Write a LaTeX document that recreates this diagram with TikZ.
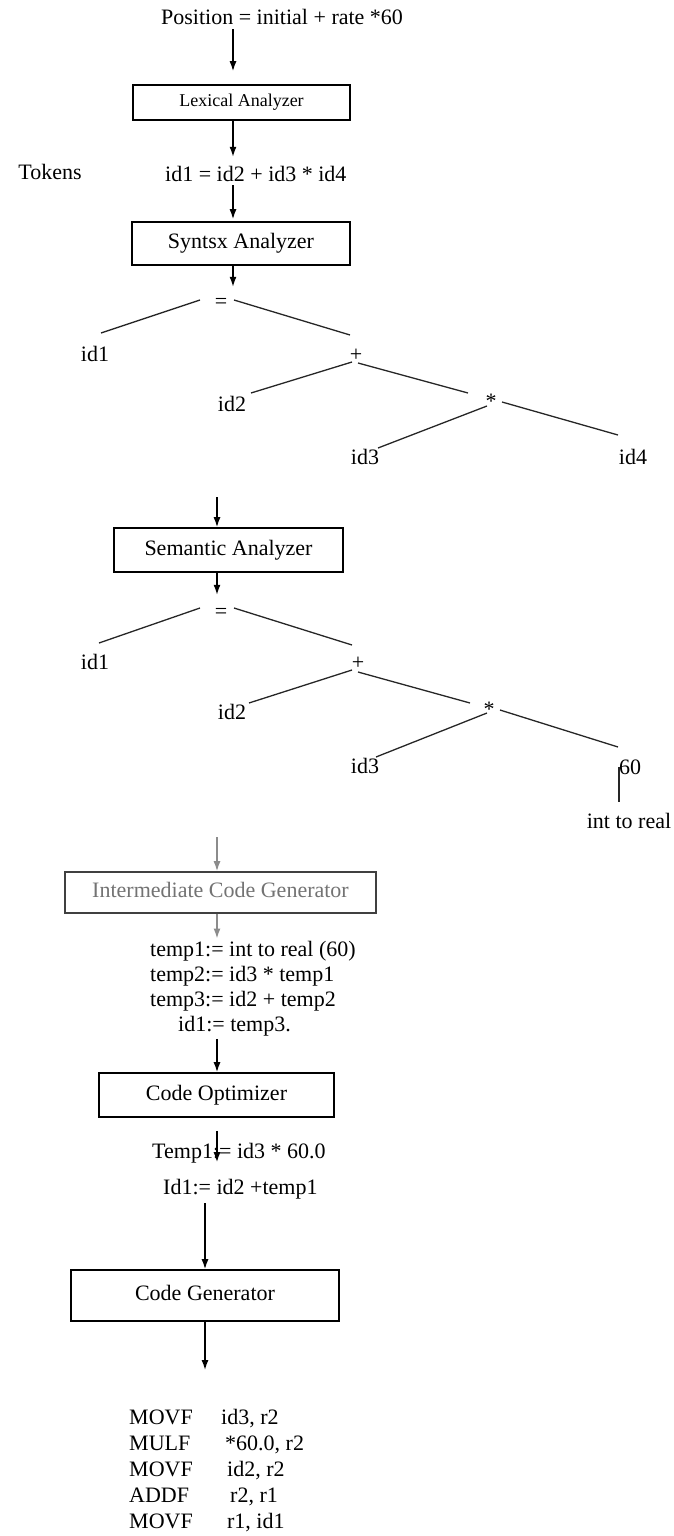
\documentclass[tikz,border=0pt]{standalone}
\usepackage{fontspec}
\setmainfont{Liberation Serif}
\usepackage{tikz}
\usetikzlibrary{arrows.meta, calc}
\definecolor{faded}{gray}{0.45}
\definecolor{fadedline}{gray}{0.55}
\tikzstyle{block} = [draw, fill=white, rectangle, line width=1.6pt, inner sep=0pt, text height=15pt, text depth=5pt]
\tikzstyle{lbl} = [inner sep=0pt, text height=16pt, text depth=4pt]
\tikzstyle{edge} = [line width=1.3pt, draw=black!85]
\tikzstyle{flow} = [->, line width=1.4pt]
\newcommand{\phasefont}{\fontsize{22}{25}\selectfont}
\newcommand{\tinyphasefont}{\fontsize{18}{21}\selectfont}

\begin{document}
\begin{tikzpicture}[x=1pt, y=-1pt, >={Latex[length=10pt,width=7pt]}, font=\phasefont]
  \useasboundingbox (0,0) rectangle (674,1536);
  \coordinate (colA) at (233,0);
  \coordinate (colB) at (217,0);
  \coordinate (colC) at (205,0);

  % lexical and syntax phase
  \node[lbl, anchor=west] (src) at (161,19) {Position = initial + rate *60};
  \node[block, minimum width=217pt, minimum height=35pt, font=\tinyphasefont, text height=12pt, text depth=4pt] (lex) at (241.5,102.5) {Lexical Analyzer};
  \node[lbl] (toklabel) at (50,173) {Tokens};
  \node[lbl, anchor=west] (tok) at (165,175) {id1 = id2 + id3 * id4};
  \node[block, minimum width=218pt, minimum height=43pt] (syn) at (241,243.5) {Syntsx Analyzer};
  \draw[flow, shorten >=13pt] (src.south -| colA) -- (lex.north -| colA);
  \draw[flow, shorten >=8pt] (lex.south -| colA) -- (tok.north -| colA);
  \draw[flow, shorten >=2pt] (tok.south -| colA) -- (syn.north -| colA);

  % syntax tree
  \node[lbl] (eqA) at (221,302) {=};
  \node[lbl] (idA1) at (95,355) {id1};
  \node[lbl] (plusA) at (356,355) {+};
  \node[lbl] (idA2) at (232,405) {id2};
  \node[lbl] (starA) at (491,402) {*};
  \node[lbl] (idA3) at (365,458) {id3};
  \node[lbl] (idA4) at (633,458) {id4};
  \draw[flow, shorten >=5pt] (syn.south -| colA) -- (eqA.north -| colA);
  \draw[edge] ($(eqA)+(-21,-2)$) -- ($(idA1)+(6,-22)$);
  \draw[edge] ($(eqA)+(13,-2)$) -- ($(plusA)+(-6,-20)$);
  \draw[edge] ($(plusA)+(-4,7)$) -- ($(idA2)+(19,-12)$);
  \draw[edge] ($(plusA)+(2,8)$) -- ($(starA)+(-23,-9)$);
  \draw[edge] ($(starA)+(-4,4)$) -- ($(idA3)+(13,-10)$);
  \draw[edge] ($(starA)+(11,0)$) -- ($(idA4)+(-15,-23)$);

  % semantic phase
  \coordinate (treeAout) at (217,497);
  \node[block, minimum width=229pt, minimum height=44pt] (sem) at (228.5,550) {Semantic Analyzer};
  \draw[flow] (treeAout) -- (sem.north -| colB);

  \node[lbl] (eqB) at (221,612) {=};
  \node[lbl] (idB1) at (95,663) {id1};
  \node[lbl] (plusB) at (358,663) {+};
  \node[lbl] (idB2) at (232,713) {id2};
  \node[lbl] (starB) at (489,710) {*};
  \node[lbl] (idB3) at (365,767) {id3};
  \node[lbl] (sixty) at (630,768) {60};
  \node[lbl] (conv) at (629,822) {int to real};
  \draw[flow, shorten >=7pt] (sem.south -| colB) -- (eqB.north -| colB);
  \draw[edge] ($(eqB)+(-21,-4)$) -- ($(idB1)+(4,-20)$);
  \draw[edge] ($(eqB)+(13,-4)$) -- ($(plusB)+(-6,-18)$);
  \draw[edge] ($(plusB)+(-6,7)$) -- ($(idB2)+(17,-10)$);
  \draw[edge] ($(plusB)+(0,9)$) -- ($(starB)+(-19,-7)$);
  \draw[edge] ($(starB)+(-2,3)$) -- ($(idB3)+(11,-10)$);
  \draw[edge] ($(starB)+(11,0)$) -- ($(sixty)+(-12,-21)$);
  \draw[edge] ($(sixty)+(-11,-1)$) -- ($(conv)+(-10,-20)$);

  % intermediate code
  \coordinate (treeBout) at (217,837);
  \node[block, draw=black!75, text=faded, minimum width=311pt, minimum height=41pt] (icg) at (220.5,892.5) {Intermediate Code Generator};
  \node[inner sep=0pt, anchor=north west] (ir) at (150,938.5) {\begin{tabular}{@{}l@{}}
    temp1:= int to real (60)\\
    temp2:= id3 * temp1\\
    temp3:= id2 + temp2\\
    \hspace*{28pt}id1:= temp3.
  \end{tabular}};
  \draw[flow, draw=fadedline, fill=fadedline] (treeBout) -- (icg.north -| colB);
  \draw[flow, draw=fadedline, fill=fadedline] (icg.south -| colB) -- (ir.north -| colB);

  % optimizer
  \node[block, minimum width=235pt, minimum height=44pt] (opt) at (216.5,1095) {Code Optimizer};
  \node[lbl, anchor=west] (optA) at (152,1152) {Temp1:= id3 * 60.0};
  \node[lbl, anchor=west] (optB) at (163,1188) {Id1:= id2 +temp1};
  \draw[flow] (ir.south -| colB) -- (opt.north -| colB);
  \draw[flow, shorten <=13pt] (opt.south -| colB) -- (optA.south -| colB);

  % code generator
  \node[block, minimum width=268pt, minimum height=51pt] (gen) at (205,1295.5) {Code Generator};
  \node[inner sep=0pt, anchor=north west, font=\fontsize{22}{26}\selectfont] (asm) at (129,1406) {\begin{tabular}{@{}l@{}}
    \makebox[92pt][l]{MOVF}id3, r2\\
    \makebox[96pt][l]{MULF}*60.0, r2\\
    \makebox[98pt][l]{MOVF}id2, r2\\
    \makebox[101pt][l]{ADDF}r2, r1\\
    \makebox[98pt][l]{MOVF}r1, id1
  \end{tabular}};
  \draw[flow, shorten <=5pt] (optB.south -| colC) -- (gen.north -| colC);
  \draw[flow, shorten >=36pt] (gen.south -| colC) -- (asm.north -| colC);
\end{tikzpicture}
\end{document}
